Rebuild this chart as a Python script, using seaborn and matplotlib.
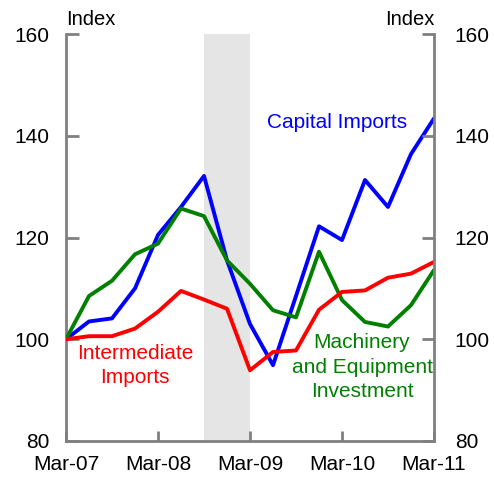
import pandas as pd
import matplotlib
matplotlib.use('Agg')
import matplotlib.pyplot as plt
import seaborn as sns

# Quarterly index, Mar-07 = 100
quarters = ['Mar-07', 'Jun-07', 'Sep-07', 'Dec-07', 'Mar-08', 'Jun-08', 'Sep-08', 'Dec-08',
            'Mar-09', 'Jun-09', 'Sep-09', 'Dec-09', 'Mar-10', 'Jun-10', 'Sep-10', 'Dec-10', 'Mar-11']
capital_imports = [100, 103.5, 104.1, 110.0, 120.5, 126.0, 132.1, 115.5,
                   103.0, 94.9, 108.5, 122.2, 119.5, 131.3, 126.0, 136.4, 143.4]
machinery_investment = [100, 108.5, 111.5, 116.7, 118.8, 125.7, 124.2, 115.5,
                        110.9, 105.7, 104.3, 117.2, 107.7, 103.4, 102.5, 106.7, 113.6]
intermediate_imports = [100, 100.6, 100.6, 102.1, 105.4, 109.5, 107.8, 106.0,
                        93.9, 97.5, 97.8, 105.8, 109.3, 109.6, 112.1, 112.9, 115.2]
tick_labels = ['Mar-07', 'Mar-08', 'Mar-09', 'Mar-10', 'Mar-11']
recession = ('Sep-08', 'Mar-09')

df = pd.DataFrame({
    'q': list(range(len(quarters))) * 3,
    'value': capital_imports + machinery_investment + intermediate_imports,
    'series': ['Capital'] * len(quarters) + ['Machinery'] * len(quarters) + ['Intermediate'] * len(quarters),
})

sns.set_style('white')
plt.rcParams['font.family'] = ['Liberation Sans', 'DejaVu Sans']
plt.rcParams['text.color'] = 'black'

fig = plt.figure(figsize=(4.94, 4.79), dpi=100)
ax = fig.add_axes([66 / 494, 38 / 479, 368 / 494, 407 / 479])

ax.axvspan(quarters.index(recession[0]), quarters.index(recession[1]), color='#e5e5e5', lw=0, zorder=0)

palette = {'Capital': '#0000ff', 'Machinery': '#008000', 'Intermediate': '#ff0000'}
sns.lineplot(data=df, x='q', y='value', hue='series', palette=palette, lw=2.8,
             legend=False, ax=ax, zorder=3)

ax.set_xlim(0, len(quarters) - 1)
ax.set_ylim(80, 160)
ax.set_xticks([quarters.index(t) for t in tick_labels])
ax.set_xticklabels(tick_labels)
ax.set_yticks([80, 100, 120, 140, 160])
ax.set_xlabel('')
ax.set_ylabel('')

ax2 = ax.twinx()
ax2.set_ylim(80, 160)
ax2.set_yticks([80, 100, 120, 140, 160])

for a in (ax, ax2):
    a.spines['top'].set_visible(False)
    for s in a.spines.values():
        s.set_color('#808080')
        s.set_linewidth(2)
ax.spines['right'].set_visible(False)
ax2.spines['left'].set_visible(False)
ax2.spines['bottom'].set_visible(False)

ax.tick_params(axis='y', direction='in', length=9, width=2, color='#808080', labelcolor='black',
               labelsize=15, pad=12, left=True)
ax.tick_params(axis='x', direction='in', length=7, width=2, color='#808080', labelcolor='black',
               labelsize=15, pad=10, bottom=True)
ax2.tick_params(axis='y', direction='in', length=9, width=2, color='#808080', labelcolor='black',
                labelsize=15, pad=15, right=True)

ax.text(0, 161, 'Index', fontsize=14.5, ha='left', va='bottom')
ax2.text(16, 161, 'Index', fontsize=14.5, ha='right', va='bottom')

ax.text(11.78, 142.7, 'Capital Imports', color='#0000ff', fontsize=15, ha='center', va='center')
ax.text(3.0, 94.8, 'Intermediate\nImports', color='#ff0000', fontsize=15, ha='center', va='center',
        linespacing=1.3)
ax.text(12.87, 94.5, 'Machinery\nand Equipment\nInvestment', color='#008000', fontsize=15,
        ha='center', va='center', linespacing=1.35)

fig.savefig('out.png', dpi=100)
